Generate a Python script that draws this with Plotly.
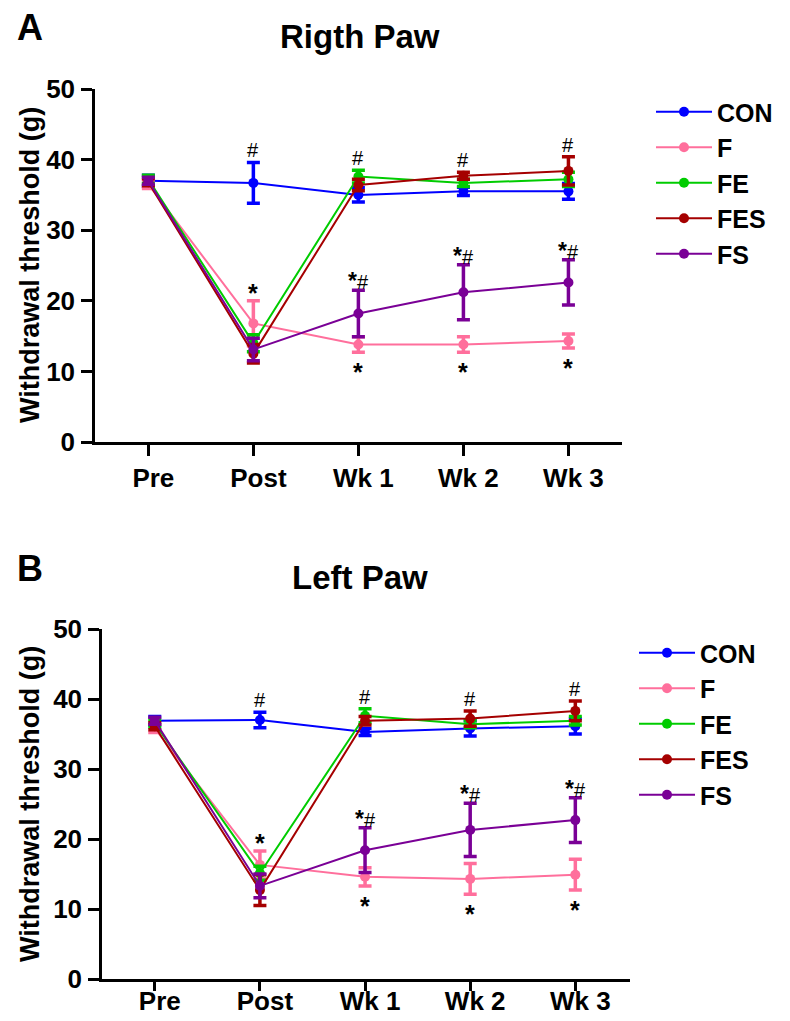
import plotly.graph_objects as go

# ---------------- data ----------------
timepoints = ["Pre", "Post", "Wk 1", "Wk 2", "Wk 3"]
groups = ["CON", "F", "FE", "FES", "FS"]

# Panel A - right paw (mean, error)
right_CON = [37.0, 36.7, 35.0, 35.5, 35.5]
right_CON_err = [0.8, 2.9, 1.0, 0.6, 1.1]
right_F = [36.5, 16.8, 13.8, 13.8, 14.3]
right_F_err = [0.6, 3.2, 1.1, 1.1, 1.0]
right_FE = [37.2, 14.0, 37.6, 36.7, 37.2]
right_FE_err = [0.6, 1.2, 0.9, 0.5, 1.0]
right_FES = [36.8, 12.5, 36.4, 37.7, 38.4]
right_FES_err = [0.5, 1.3, 0.8, 0.5, 2.0]
right_FS = [37.0, 13.1, 18.2, 21.2, 22.6]
right_FS_err = [0.5, 1.6, 3.3, 3.9, 3.2]

# Panel B - left paw (mean, error)
left_CON = [36.9, 37.0, 35.3, 35.8, 36.1]
left_CON_err = [0.6, 1.1, 0.5, 1.1, 1.1]
left_F = [35.8, 16.3, 14.6, 14.3, 14.9]
left_F_err = [0.6, 2.0, 1.3, 2.2, 2.2]
left_FE = [36.5, 15.1, 37.6, 36.4, 36.9]
left_FE_err = [0.5, 1.0, 1.0, 0.5, 0.6]
left_FES = [36.1, 12.7, 36.9, 37.2, 38.3]
left_FES_err = [0.5, 2.2, 0.6, 1.1, 1.4]
left_FS = [36.9, 13.3, 18.4, 21.3, 22.7]
left_FS_err = [0.5, 1.7, 3.2, 3.8, 3.2]

# significance labels per time point
hash_marks = ["", "#", "#", "#", "#"]      # above the recovered groups
fs_marks = ["", "", "*#", "*#", "*#"]       # above FS
f_above_marks = ["", "*", "", "", ""]       # above F
f_below_marks = ["", "", "*", "*", "*"]     # below F

y_ticks = [0, 10, 20, 30, 40, 50]
y_title = "Withdrawal threshold (g)"
panel_titles = ["Rigth Paw", "Left Paw"]
panel_letters = ["A", "B"]

colors = {"CON": "#0000FF", "F": "#FF6F9C", "FE": "#00CC00",
          "FES": "#A50000", "FS": "#7A0096"}

FONT = "Liberation Sans, Arial, sans-serif"

# page offset (body margin) and figure size
OFF = 8
W, H = 790 - OFF, 1021 - OFF


def px(x):
    return (x - OFF) / W


def py(y):
    return 1 - (y - OFF) / H


panels = [
    {"means": {"CON": right_CON, "F": right_F, "FE": right_FE, "FES": right_FES, "FS": right_FS},
     "errs": {"CON": right_CON_err, "F": right_F_err, "FE": right_FE_err, "FES": right_FES_err, "FS": right_FS_err},
     "xaxis": "x", "yaxis": "y", "legend": "legend"},
    {"means": {"CON": left_CON, "F": left_F, "FE": left_FE, "FES": left_FES, "FS": left_FS},
     "errs": {"CON": left_CON_err, "F": left_F_err, "FE": left_FE_err, "FES": left_FES_err, "FS": left_FS_err},
     "xaxis": "x2", "yaxis": "y2", "legend": "legend2"},
]

fig = go.Figure()
xs = list(range(len(timepoints)))

for p in panels:
    for g in groups:
        fig.add_trace(go.Scatter(
            x=xs, y=p["means"][g], name=g,
            mode="lines+markers",
            line=dict(color=colors[g], width=2),
            marker=dict(color=colors[g], size=10),
            error_y=dict(type="data", array=p["errs"][g], visible=True,
                         color=colors[g], thickness=3.5, width=6.5),
            xaxis=p["xaxis"], yaxis=p["yaxis"],
            legend=p["legend"], legendgroup=p["legend"] + g,
        ))

STAR_SMALL = "<span style='font-size:23px'><b>*</b></span>"
STAR_BIG = "<span style='font-size:25px'><b>*</b></span>"


def fmt(t, star):
    return t.replace("*", star)


annotations = []
mark_font = dict(family=FONT, size=20, color="black")
for p in panels:
    m, e = p["means"], p["errs"]
    xref, yref = p["xaxis"], p["yaxis"]
    for i in xs:
        if hash_marks[i]:
            top = max(m[g][i] + e[g][i] for g in ["CON", "FE", "FES"])
            annotations.append(dict(x=i, y=top, xref=xref, yref=yref, text=hash_marks[i],
                                    showarrow=False, yanchor="bottom", yshift=-1, font=mark_font))
        if fs_marks[i]:
            annotations.append(dict(x=i, y=m["FS"][i] + e["FS"][i], xref=xref, yref=yref,
                                    text=fmt(fs_marks[i], STAR_SMALL), showarrow=False,
                                    yanchor="bottom", yshift=-6, font=mark_font))
        if f_above_marks[i]:
            annotations.append(dict(x=i, y=m["F"][i] + e["F"][i], xref=xref, yref=yref,
                                    text=fmt(f_above_marks[i], STAR_BIG), showarrow=False,
                                    yanchor="bottom", yshift=-8, font=mark_font))
        if f_below_marks[i]:
            annotations.append(dict(x=i, y=m["F"][i] - e["F"][i], xref=xref, yref=yref,
                                    text=fmt(f_below_marks[i], STAR_BIG), showarrow=False,
                                    yanchor="top", yshift=-4, font=mark_font))

bold = dict(family=FONT, color="black", weight="bold")

letter_pos = [(30, 27), (30, 568)]
title_pos = [(360, 37), (360, 577)]
ytitle_pos = [(30, 265), (30, 804)]
for k in range(2):
    annotations += [
        dict(x=px(letter_pos[k][0]), y=py(letter_pos[k][1]), xref="paper", yref="paper",
             text=panel_letters[k], showarrow=False, xanchor="center", yanchor="middle",
             font=dict(size=36, **bold)),
        dict(x=px(title_pos[k][0]), y=py(title_pos[k][1]), xref="paper", yref="paper",
             text=panel_titles[k], showarrow=False, xanchor="center", yanchor="middle",
             font=dict(size=33, **bold)),
        dict(x=px(ytitle_pos[k][0]), y=py(ytitle_pos[k][1]), xref="paper", yref="paper",
             text=y_title, textangle=-90, showarrow=False, xanchor="center", yanchor="middle",
             font=dict(size=27, **bold)),
    ]

xaxis_style = dict(tickmode="array", tickvals=xs, ticktext=timepoints,
                   showline=True, linewidth=2.5, linecolor="black",
                   ticks="outside", tickwidth=2.5, tickcolor="black",
                   tickfont=dict(size=26, **bold), showgrid=False, zeroline=False,
                   automargin=False, ticklabelshift=5)
yaxis_style = dict(range=[0, 50], tickvals=y_ticks,
                   showline=True, linewidth=2.5, linecolor="black",
                   ticks="outside", ticklen=11, tickwidth=2.5, tickcolor="black",
                   tickfont=dict(size=26, **bold), showgrid=False, zeroline=False,
                   automargin=False, ticklabelstandoff=1)

fig.update_layout(
    width=W, height=H,
    margin=dict(l=0, r=0, t=0, b=0, pad=0, autoexpand=False),
    paper_bgcolor="white", plot_bgcolor="white",
    font=dict(family=FONT, color="black"),
    xaxis=dict(domain=[px(95), px(622)], range=[-0.508, 4.51], anchor="y",
               ticklen=11, **xaxis_style),
    yaxis=dict(domain=[py(442), py(89)], anchor="x", **yaxis_style),
    xaxis2=dict(domain=[px(102), px(630)], range=[-0.502, 4.52], anchor="y2",
                ticklen=9, ticklabelstandoff=-12, **xaxis_style),
    yaxis2=dict(domain=[py(979), py(629)], anchor="x2", **yaxis_style),
    legend=dict(x=px(651), y=py(89), xanchor="left", yanchor="top",
                font=dict(size=25, **bold), tracegroupgap=0, itemwidth=56,
                bgcolor="rgba(0,0,0,0)"),
    legend2=dict(x=px(634), y=py(630), xanchor="left", yanchor="top",
                 font=dict(size=25, **bold), tracegroupgap=0, itemwidth=56,
                 bgcolor="rgba(0,0,0,0)"),
    annotations=annotations,
    showlegend=True,
)

fig.write_html("out.html")
